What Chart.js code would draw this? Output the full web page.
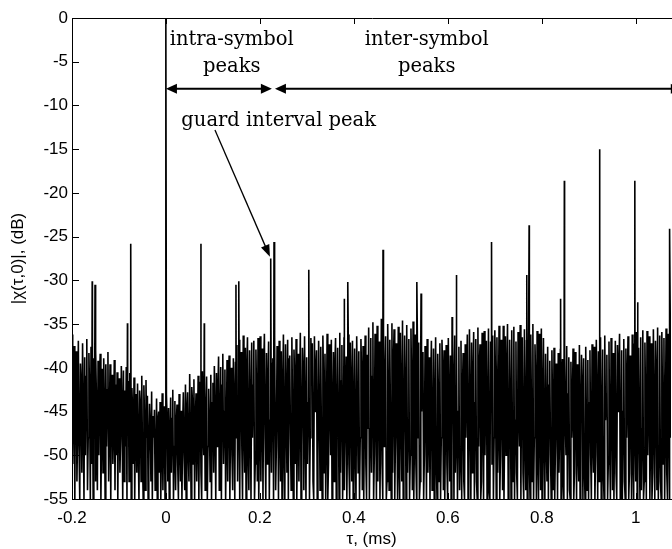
<!DOCTYPE html>
<html>
<head>
<meta charset="utf-8">
<script src="https://cdn.jsdelivr.net/npm/chart.js@4.4.1/dist/chart.umd.min.js"></script>
<style>
  html, body { margin: 0; padding: 0; background: #fff; }
  #wrap { width: 672px; height: 549px; }
</style>
</head>
<body>
<div id="wrap"><canvas id="ambChart" width="672" height="549"></canvas></div>
<script>
// sample grid of the noise floor (ms)
var noiseStart = -0.2;
var noiseStep = 0.0015;

// |chi(tau,0)| noise floor, dB
var noiseDb = [
  -36.2, -51, -44, -37.5, -55, -40, -38.1, -53, -47, -36.9,
  -49, -55, -39.5, -42, -52, -37.2, -46, -55, -38.8, -50,
  -41, -36.7, -54, -48, -38.3, -43, -55, -37.6, -51, -40.2,
  -55, -38.9, -47, -53,
  -37.9, -45, -54, -39.2, -50, -41.5, -38.4, -55, -47, -40.1,
  -52, -38.9, -44, -55, -39.6, -49, -42.5, -38.2, -53, -46,
  -39.6, -55, -43, -40.8, -51, -47, -39.1, -54, -41.9, -50,
  -40.5, -55, -44, -41.2, -52, -48, -39.8, -45, -55, -40.3,
  -53, -42.6, -49, -39.9, -55, -46, -41.5,
  -53, -40.6, -48, -55, -42.3, -45, -51, -41.1, -55, -47,
  -43.0, -52, -41.8, -49, -55, -42.6, -44, -53, -40.9, -50,
  -55, -42.0, -46, -54, -41.4, -48,
  -43.2, -55, -50, -44.1, -47, -53, -42.7, -55, -45.5, -48,
  -44.8, -54, -51, -43.5, -55, -46, -45.0, -52, -43.9, -55,
  -49, -42.9, -54, -47, -44.4, -55, -50, -43.1, -46, -53,
  -44.6, -55, -48, -43.4, -52, -45.8, -42.5, -55, -49, -43.8,
  -54, -46.5, -44.2, -51, -55, -43.0, -48, -53, -44.9, -55,
  -47, -42.8, -50, -54,
  -41.9, -55, -45, -42.8, -50, -53, -40.7, -47, -55, -42.2,
  -44, -51, -41.3, -55, -46, -42.9, -53, -48, -40.9, -55,
  -43.5, -41.6, -52, -55, -40.4, -47, -50, -42.1, -54, -45,
  -41.0, -55, -49, -42.4, -46, -53, -40.8, -55, -44, -41.7,
  -52, -39.8, -46, -55, -40.6, -49, -43, -38.7, -54, -47,
  -39.9, -55, -42, -38.4, -51, -45, -40.2, -55, -48, -39.1,
  -53, -41.5, -38.6, -55, -46, -40.0, -50, -54, -38.9, -44,
  -55, -39.4, -48,
  -37.4, -53, -44, -36.8, -55, -41, -38.2, -49, -55, -36.3,
  -46, -52, -37.7, -55, -40.5, -36.5, -50, -54, -38.0, -45,
  -55, -37.1, -48, -42, -36.9, -55, -51, -37.9, -44, -53,
  -36.6, -55, -47,
  -36.4, -53, -44, -37.8, -55, -40, -36.1, -48, -55, -38.3,
  -51, -42.5, -37.0, -55, -46, -36.6, -52, -39.5, -38.9, -55,
  -45, -36.3, -54, -49, -37.5, -41, -55, -36.9, -47, -53,
  -38.1, -55, -43, -36.2, -50, -55, -37.3, -44.5, -52, -36.8,
  -55, -39, -38.6, -48, -54, -36.5, -45, -55, -37.9, -41.5,
  -51, -36.7, -55, -47, -38.4, -53, -43, -36.0, -55, -49,
  -37.7, -40.5, -54, -36.4, -46, -55, -38.8, -51, -44, -37.2,
  -55, -48, -36.6, -42,
  -37.2, -53, -55, -36.4, -45, -40.5, -38.0, -55, -50, -36.9,
  -44, -54, -37.6, -49, -55, -36.3, -42, -52, -38.4, -55,
  -47, -36.1, -55, -51, -37.3, -43.5, -50, -36.8, -55, -46,
  -38.2, -53, -40, -36.6, -55, -48, -37.7, -45, -55, -36.0,
  -52, -41.5, -37.4, -55, -49, -36.5, -54, -44, -38.7, -55,
  -47, -36.2, -51, -55, -37.1, -42.5, -53, -36.9, -55, -46,
  -37.8, -50, -55, -36.4, -44, -52, -38.1, -55, -48, -36.7,
  -41, -54, -37.5, -55, -45, -36.3, -51, -55, -38.5, -47,
  -35.4, -55, -47, -36.6, -52, -41, -34.8, -55, -50, -36.1,
  -44, -55, -35.2, -53, -39, -37.0, -55, -46, -34.4, -51,
  -55, -35.9, -49, -42, -36.4, -55, -53, -35.0, -43, -54,
  -36.8, -47, -55, -34.9, -52, -40, -35.6, -55, -48, -37.2,
  -45, -55, -35.3, -51, -55, -36.0, -44, -53, -34.6, -55,
  -49, -36.3, -41.5, -55, -35.1, -52, -46, -36.7, -55, -50,
  -35.5, -43, -54, -34.7, -55, -48, -36.2, -51, -55, -35.8,
  -48, -37.1, -55, -53, -36.4, -45, -41, -38.2, -55, -50,
  -37.5, -44, -55, -36.7, -52, -47, -38.8, -55, -42, -36.9,
  -54, -49, -37.8, -55, -46, -36.5, -51, -55, -38.4, -43,
  -53, -37.2, -55, -48, -36.8, -40.5, -54, -38.0, -55, -46,
  -37.4, -51, -55, -36.6, -44, -53, -38.6, -55, -49, -37.0,
  -42, -55, -36.3, -52, -47, -38.1, -55, -45, -37.6, -54,
  -50, -36.9, -55, -43, -38.3, -53, -55, -37.3, -48, -41,
  -36.2, -55, -51, -35.6, -46, -55, -37.1, -52, -42, -35.9,
  -55, -44, -36.7, -53, -55, -35.4, -49, -40, -37.3, -55,
  -53, -36.0, -45, -55, -35.8, -50, -43, -36.9, -55, -47,
  -35.5, -54, -55, -37.0, -44, -51, -36.3, -55, -48, -35.7,
  -41.5, -55, -36.5, -52, -46, -35.2, -55, -50, -36.8, -44,
  -54, -35.2, -55, -47, -36.4, -50, -41, -35.0, -55, -53,
  -36.8, -43, -55, -35.7, -49, -53, -35.3, -55, -46, -37.0,
  -52, -55, -35.9, -44, -49, -35.1, -55, -40.5, -36.5, -52,
  -55, -35.6, -47, -54, -36.9, -55, -43, -35.4, -51, -55,
  -36.2, -45, -53, -35.0, -55, -48, -37.3, -42, -55, -35.8,
  -50, -55, -36.1, -46, -54, -35.5, -55, -44, -36.6, -49,
  -55, -38.4, -48, -53, -37.6, -55, -42, -39.2, -50, -55,
  -38.0, -45, -54, -37.7, -55, -49, -39.5, -44, -55, -38.3,
  -52, -47, -37.9, -55, -41.5, -39.0, -53, -55, -38.6, -46,
  -50, -37.5, -55, -43, -38.8, -54, -55, -39.3, -48, -45,
  -37.8, -55, -52, -38.2, -44, -55, -39.6, -49, -53, -37.4,
  -55, -46, -38.5, -42.5, -55, -38.9, -51, -55, -37.6, -47,
  -54, -39.1, -55, -44, -38.0, -50, -55, -37.3, -48, -52,
  -37.6, -55, -50, -36.8, -44, -55, -38.1, -53, -41, -36.5,
  -55, -48, -37.9, -52, -55, -36.3, -46, -43, -38.5, -55,
  -51, -37.0, -49, -55, -36.6, -43, -54, -38.3, -55, -47,
  -36.9, -52, -55, -37.4, -45, -40, -36.1, -55, -51, -38.0,
  -55, -45, -36.7, -53, -55, -37.8, -48, -42, -36.4, -55,
  -52, -38.6, -44, -55, -36.2, -50, -55, -37.3, -46, -53,
  -35.9, -55, -41.5, -37.7, -49, -55, -36.5, -54, -47, -35.7,
  -55, -53, -37.1, -45, -55, -35.8, -50, -43, -36.4, -55,
  -48, -37.2, -55, -52, -35.6, -46, -55, -36.9, -41, -54,
  -35.4, -55, -49, -36.3, -53, -55, -35.9, -44, -51, -36.6,
  -55, -47, -35.5, -52, -55, -36.1, -45, -55, -35.3, -48
];

// correlation peaks (ms) and their levels (dB)
var peakTimes = [-0.157, -0.151, -0.082, -0.075, 0, 0.0745, 0.0815, 0.149, 0.155, 0.223, 0.230,
  0.304, 0.379, 0.387, 0.462, 0.534, 0.543, 0.609, 0.618, 0.693, 0.768, 0.773, 0.840, 0.848,
  0.923, 0.998, 1.004, 1.072];
var peakDb = [-30.1, -30.5, -34.9, -25.8, 0, -25.8, -34.9, -30.5, -30.1, -27.5, -25.6,
  -28.8, -32.1, -30.2, -26.5, -30.2, -31.5, -34.2, -29.4, -25.6, -29.4, -23.7, -32.1, -18.6,
  -15.0, -18.6, -32.5, -24.1];

var xMin = -0.2, xMax = 1.075;
var yMin = -55, yMax = 0;

// merge floor and peaks into one trace
var points = noiseDb.map(function (v, i) { return { x: noiseStart + i * noiseStep, y: v }; })
  .concat(peakTimes.map(function (t, i) { return { x: t, y: peakDb[i] }; }))
  .sort(function (a, b) { return a.x - b.x; });

var serif = '"DejaVu Serif", serif';
var sans = '"Liberation Sans", Arial, sans-serif';

function arrowHead(ctx, x0, y0, x1, y1, len, half) {
  var a = Math.atan2(y1 - y0, x1 - x0);
  var bx = x1 - len * Math.cos(a), by = y1 - len * Math.sin(a);
  ctx.beginPath();
  ctx.moveTo(x1, y1);
  ctx.lineTo(bx + half * Math.sin(a), by - half * Math.cos(a));
  ctx.lineTo(bx - half * Math.sin(a), by + half * Math.cos(a));
  ctx.closePath();
  ctx.fill();
}

// frame, inward ticks and the text/arrow notes
var notes = {
  id: 'notes',
  afterDraw: function (chart) {
    var ctx = chart.ctx, area = chart.chartArea;
    var xs = chart.scales.x, ys = chart.scales.y;
    ctx.save();
    ctx.strokeStyle = '#000';
    ctx.fillStyle = '#000';
    ctx.lineWidth = 1;

    ctx.beginPath();
    ctx.moveTo(area.left, area.top + 0.5);
    ctx.lineTo(area.right + 2, area.top + 0.5);
    xs.ticks.forEach(function (t) {
      var px = Math.round(xs.getPixelForValue(t.value)) + 0.5;
      ctx.moveTo(px, area.top);
      ctx.lineTo(px, area.top + 6);
      ctx.moveTo(px, area.bottom);
      ctx.lineTo(px, area.bottom - 6);
    });
    ys.ticks.forEach(function (t) {
      var py = Math.round(ys.getPixelForValue(t.value)) + 0.5;
      ctx.moveTo(area.left, py);
      ctx.lineTo(area.left + 7, py);
    });
    ctx.stroke();

    // text notes
    ctx.font = '19.5px ' + serif;
    ctx.textAlign = 'center';
    ctx.textBaseline = 'alphabetic';
    ctx.fillText('intra-symbol', xs.getPixelForValue(0.140), ys.getPixelForValue(-3.05));
    ctx.fillText('peaks', xs.getPixelForValue(0.140), ys.getPixelForValue(-6.2));
    ctx.fillText('inter-symbol', xs.getPixelForValue(0.555), ys.getPixelForValue(-3.05));
    ctx.fillText('peaks', xs.getPixelForValue(0.555), ys.getPixelForValue(-6.2));
    ctx.fillText('guard interval peak', xs.getPixelForValue(0.240), ys.getPixelForValue(-12.4));

    // span arrows
    var ay = ys.getPixelForValue(-8.1);
    var a0 = xs.getPixelForValue(0), a1 = xs.getPixelForValue(0.2255);
    var b0 = xs.getPixelForValue(0.232), b1 = xs.getPixelForValue(1.098);
    ctx.lineWidth = 2;
    ctx.beginPath();
    ctx.moveTo(a0 + 4, ay); ctx.lineTo(a1 - 4, ay);
    ctx.moveTo(b0 + 4, ay); ctx.lineTo(b1 - 4, ay);
    ctx.stroke();
    arrowHead(ctx, a1, ay, a0, ay, 11, 5);
    arrowHead(ctx, a0, ay, a1, ay, 11, 5);
    arrowHead(ctx, b1, ay, b0, ay, 11, 5);
    arrowHead(ctx, b0, ay, b1, ay, 11, 5);

    // guard interval pointer
    var gx0 = xs.getPixelForValue(0.1043), gy0 = ys.getPixelForValue(-12.8);
    var gx1 = xs.getPixelForValue(0.2213), gy1 = ys.getPixelForValue(-27.3);
    ctx.lineWidth = 1.3;
    ctx.beginPath();
    ctx.moveTo(gx0, gy0);
    ctx.lineTo(gx0 + (gx1 - gx0) * 0.93, gy0 + (gy1 - gy0) * 0.93);
    ctx.stroke();
    arrowHead(ctx, gx0, gy0, gx1, gy1, 12, 4.5);
    ctx.restore();
  }
};

new Chart(document.getElementById('ambChart').getContext('2d'), {
  type: 'line',
  data: {
    datasets: [{
      data: points,
      borderColor: '#000',
      borderWidth: 1.6,
      pointRadius: 0,
      tension: 0,
      fill: false
    }]
  },
  options: {
    responsive: false,
    animation: false,
    events: [],
    layout: { padding: { left: 0, right: 1, top: 18, bottom: 0 } },
    plugins: { legend: { display: false }, tooltip: { enabled: false } },
    scales: {
      x: {
        type: 'linear',
        min: xMin,
        max: xMax,
        grid: { display: false, drawTicks: false },
        border: { display: true, color: '#000', width: 1 },
        ticks: {
          stepSize: 0.2,
          includeBounds: false,
          padding: 9,
          color: '#000',
          font: { family: sans, size: 17 },
          maxRotation: 0,
          autoSkip: false,
          callback: function (v) { return String(Number(v.toFixed(1))); }
        },
        title: {
          display: true,
          text: 'τ, (ms)',
          color: '#000',
          font: { family: sans, size: 17, lineHeight: 1 },
          padding: { top: 0, bottom: 1 }
        },
        afterFit: function (s) { s.height = 50; }
      },
      y: {
        min: yMin,
        max: yMax,
        grid: { display: false, drawTicks: false },
        border: { display: true, color: '#000', width: 1 },
        ticks: {
          stepSize: 5,
          padding: 4,
          color: '#000',
          font: { family: sans, size: 17 },
          callback: function (v) { return String(v); }
        },
        title: {
          display: true,
          text: '|χ(τ,0)|, (dB)',
          color: '#000',
          font: { family: sans, size: 17, lineHeight: 1 },
          padding: { top: 9.5, bottom: 0 }
        },
        afterFit: function (s) { s.width = 72; }
      }
    }
  },
  plugins: [notes]
});
</script>
</body>
</html>
